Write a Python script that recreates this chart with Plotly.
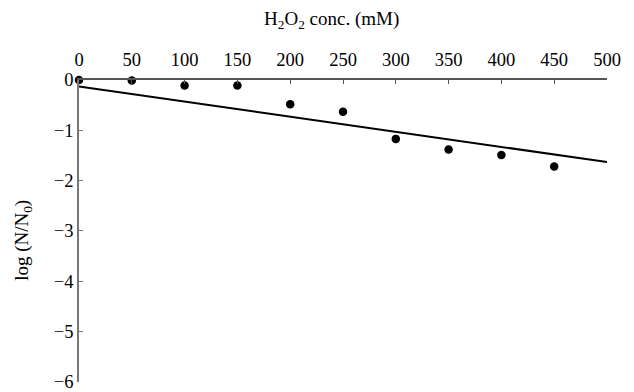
import plotly.graph_objects as go

conc = [0, 50, 100, 150, 200, 250, 300, 350, 400, 450]
log_ratio = [0.0, -0.01, -0.11, -0.11, -0.48, -0.63, -1.17, -1.38, -1.49, -1.72]
trend_x = [0, 500]
trend_y = [-0.13, -1.63]
x_ticks = [0, 50, 100, 150, 200, 250, 300, 350, 400, 450, 500]
y_ticks = [0, -1, -2, -3, -4, -5, -6]
x_title = "H<sub>2</sub>O<sub>2</sub> conc. (mM)"
y_title = "log (N/N<sub>0</sub>)"

font = "Liberation Serif"

fig = go.Figure()
fig.add_trace(go.Scatter(x=trend_x, y=trend_y, mode="lines",
                         line=dict(color="black", width=2), showlegend=False))
fig.add_trace(go.Scatter(x=conc, y=log_ratio, mode="markers",
                         marker=dict(color="black", size=8.5), cliponaxis=False,
                         showlegend=False))

fig.update_layout(
    width=634, height=392,
    margin=dict(l=78.5, r=27, t=80, b=10),
    paper_bgcolor="white", plot_bgcolor="white",
    font=dict(family=font, size=19, color="black"),
    xaxis=dict(side="top", range=[0, 500], tickvals=x_ticks, automargin=False,
               showgrid=False, zeroline=False, showline=True,
               linecolor="#555", linewidth=1.5, ticks="inside", ticklen=4,
               tickcolor="#555", tickfont=dict(family=font, size=18.5),
               ticklabelstandoff=5, ticklabeloverflow="allow"),
    yaxis=dict(range=[-6.001, 0], tickvals=y_ticks, automargin=False,
               showgrid=False, zeroline=False, showline=True,
               linecolor="#777", linewidth=1.5, ticks="inside", ticklen=4,
               tickcolor="#777", tickfont=dict(family=font, size=18.5),
               ticklabeloverflow="allow"),
    annotations=[
        dict(text=x_title, xref="paper", yref="paper", x=0.478, y=1,
             xanchor="center", yanchor="middle", yshift=60, showarrow=False,
             font=dict(family=font, size=19)),
        dict(text=y_title, xref="paper", yref="paper", x=0, y=0.469,
             xanchor="center", yanchor="middle", xshift=-55.5, showarrow=False,
             textangle=-90, font=dict(family=font, size=19)),
    ],
)

fig.write_html("out.html")
